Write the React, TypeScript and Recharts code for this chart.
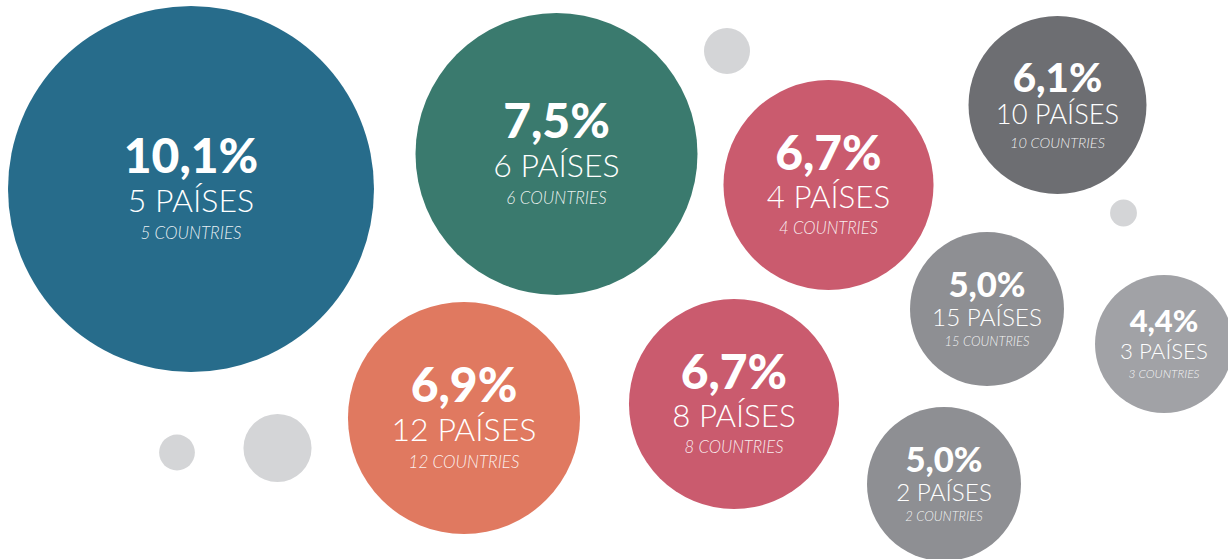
import React from 'react';
import { ScatterChart, Scatter, XAxis, YAxis, ZAxis } from 'recharts';

// layout grid: x 0..122.8, y 0..55.9 (top to bottom)
const shareValues = [10.1, 7.5, 6.7, 6.1, 5.0, 4.4, 6.9, 6.7, 5.0];
const countryCounts = [5, 6, 4, 10, 15, 3, 12, 8, 2];
const bubbleX = [19.1, 55.65, 82.85, 105.75, 98.7, 116.4, 46.4, 73.4, 94.4];
const bubbleY = [18.9, 15.4, 18.5, 10.5, 30.9, 34.4, 41.8, 40.4, 48.4];
const bubbleArea = [334.9, 198.8, 110.3, 79.2, 59.3, 47.6, 134.6, 110.3, 59.3];

// decorative small dots
const dotX = [72.7, 112.35, 17.7, 27.75];
const dotY = [5.1, 21.3, 45.25, 44.8];
const dotArea = [5.3, 1.8, 3.2, 11.6];

const COLORS = ['#276c8b', '#3a7a6e', '#ca5b6e', '#6d6e72', '#8e8f93', '#a1a2a6', '#e07960', '#ca5b6e', '#8e8f93'];
const DOT_COLOR = '#d4d5d7';
const FONT = 'Lato, "Open Sans", sans-serif';

const bubbles = shareValues.map((v, i) => ({
  x: bubbleX[i],
  y: bubbleY[i],
  z: bubbleArea[i],
  share: v.toFixed(1).replace('.', ',') + '%',
  count: countryCounts[i],
  color: COLORS[i],
}));

const dots = dotX.map((x, i) => ({ x, y: dotY[i], z: dotArea[i] }));

const BubbleShape = (props: any) => {
  const { cx, cy, width, payload } = props;
  const r = width / 2;
  const F = Math.min(48, 0.47 * r - 1.5);
  const P = Math.min(32, 0.25 * r + 5);
  const C = Math.min(17, 0.13 * r + 3);
  const H = 0.72 * F + 1.2 * P + 1.6 * C;
  const pctBase = cy - H / 2 + 0.72 * F;
  const paisBase = pctBase + 1.2 * P;
  const ctryBase = paisBase + 1.6 * C;
  return (
    <g>
      <circle cx={cx} cy={cy} r={r} fill={payload.color} />
      <text x={cx} y={pctBase} textAnchor="middle" fill="#fff" fontFamily={FONT} fontWeight={900} fontSize={F}>
        {payload.share}
      </text>
      <text x={cx} y={paisBase} textAnchor="middle" fill="#fff" fontFamily={FONT} fontWeight={300} fontSize={P}>
        {payload.count} PAÍSES
      </text>
      <text x={cx} y={ctryBase} textAnchor="middle" fill="#fff" fillOpacity={0.9} fontFamily={FONT} fontWeight={300} fontStyle="italic" fontSize={C}>
        {payload.count} COUNTRIES
      </text>
    </g>
  );
};

const DotShape = (props: any) => {
  const { cx, cy, width } = props;
  return <circle cx={cx} cy={cy} r={width / 2} fill={DOT_COLOR} />;
};

export default function App() {
  return (
    <div style={{ position: 'absolute', left: 0, top: 0, background: '#fff' }}>
      <ScatterChart width={1228} height={559} margin={{ top: 0, right: 0, bottom: 0, left: 0 }}>
        <XAxis type="number" dataKey="x" domain={[0, 122.8]} hide allowDataOverflow />
        <YAxis type="number" dataKey="y" domain={[0, 55.9]} reversed hide allowDataOverflow />
        <ZAxis type="number" dataKey="z" domain={[0, 400]} range={[0, 40000 * Math.PI]} />
        <Scatter data={dots} shape={DotShape} isAnimationActive={false} />
        <Scatter data={bubbles} shape={BubbleShape} isAnimationActive={false} />
      </ScatterChart>
    </div>
  );
}
